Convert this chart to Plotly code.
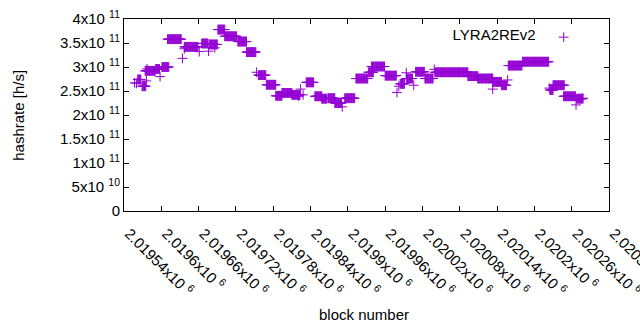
import plotly.graph_objects as go

# Runs of consecutive blocks sharing one hashrate estimate (value in units of 1e11 h/s)
seg_start = [2019562, 2019569, 2019574, 2019591, 2019601, 2019610, 2019637, 2019665, 2019677,
             2019691, 2019702, 2019723, 2019737, 2019756, 2019769, 2019784, 2019794, 2019810,
             2019833, 2019847, 2019858, 2019868, 2019879, 2019895, 2019913, 2019933, 2019938,
             2019960, 2019984, 2019994, 2020009, 2020024, 2020040, 2020093, 2020109, 2020133,
             2020147, 2020158, 2020181, 2020225, 2020230, 2020247, 2020268]
seg_end = [2019567, 2019575, 2019590, 2019597, 2019612, 2019632, 2019659, 2019675, 2019690,
           2019702, 2019721, 2019737, 2019752, 2019768, 2019784, 2019794, 2019810, 2019823,
           2019845, 2019858, 2019866, 2019879, 2019890, 2019911, 2019932, 2019941, 2019959,
           2019978, 2019991, 2020004, 2020023, 2020037, 2020093, 2020109, 2020133, 2020147,
           2020155, 2020180, 2020223, 2020230, 2020248, 2020266, 2020278]
seg_value = [2.74, 2.60, 2.92, 2.96, 3.00, 3.58, 3.42, 3.49, 3.47,
             3.78, 3.64, 3.53, 3.31, 2.83, 2.63, 2.40, 2.46, 2.42,
             2.68, 2.39, 2.34, 2.35, 2.25, 2.35, 2.76, 2.89, 3.01,
             2.82, 2.65, 2.76, 2.90, 2.76, 2.89, 2.81, 2.76, 2.69,
             2.62, 3.03, 3.11, 2.52, 2.62, 2.39, 2.34]

# Isolated blocks
pt_block = [2019557, 2019560, 2019576, 2019577, 2019598, 2019634, 2019637, 2019661, 2019676,
            2019686, 2019753, 2019821, 2019824, 2019828, 2019891, 2019979, 2019982, 2019994,
            2020006, 2020039, 2020133, 2020157, 2020224, 2020267, 2020278]
pt_value = [2.67, 2.66, 2.71, 2.96, 2.80, 3.18, 3.38, 3.32, 3.33,
            3.40, 2.89, 2.39, 2.54, 2.42, 2.17, 2.47, 2.60, 2.88,
            2.62, 2.95, 2.54, 2.73, 2.56, 2.21, 2.35]

x_ticks = [2019540 + 60 * i for i in range(14)]
y_ticks = [0, 5e10, 1e11, 1.5e11, 2e11, 2.5e11, 3e11, 3.5e11, 4e11]
y_ticktext = ["0", "5x10 <sup>10</sup>", "1x10 <sup>11</sup>", "1.5x10 <sup>11</sup>",
              "2x10 <sup>11</sup>", "2.5x10 <sup>11</sup>", "3x10 <sup>11</sup>",
              "3.5x10 <sup>11</sup>", "4x10 <sup>11</sup>"]


def fmt_x(v):
    s = ("%.5f" % (v / 1e6)).rstrip("0").rstrip(".")
    return s + "x10 <sup>6</sup>"


x_ticktext = [fmt_x(v) for v in x_ticks]

xs, ys = [], []
for s, e, v in zip(seg_start, seg_end, seg_value):
    for b in range(s, e + 1):
        xs.append(b)
        ys.append(v * 1e11)
for b, v in zip(pt_block, pt_value):
    xs.append(b)
    ys.append(v * 1e11)

FONT = "Liberation Sans, Arial, sans-serif"
COLOR = "#9400D3"

fig = go.Figure()
fig.add_trace(go.Scatter(
    x=xs, y=ys, mode="markers", name="",
    marker=dict(symbol="cross-thin", size=7, line=dict(width=1, color=COLOR), color=COLOR),
    showlegend=True,
))

axis_common = dict(showline=True, linecolor="black", linewidth=1, mirror="ticks",
                   ticks="inside", ticklen=5, tickcolor="black", showgrid=False,
                   zeroline=False, automargin=False, ticklabeloverflow="allow",
                   tickfont=dict(family=FONT, size=15, color="black"))

fig.update_layout(
    width=640, height=330,
    margin=dict(l=124, r=31, t=19, b=119),
    paper_bgcolor="white", plot_bgcolor="white",
    font=dict(family=FONT, size=15, color="black"),
    xaxis=dict(range=[2019539.98, 2020320.02], tickvals=x_ticks, ticktext=x_ticktext,
               tickangle=45, ticklabelstandoff=7, ticklabelshift=5, **axis_common),
    yaxis=dict(range=[0, 4e11], tickvals=y_ticks, ticktext=y_ticktext, **axis_common),
    legend=dict(x=0.96, y=0.99, xanchor="right", yanchor="top", bgcolor="rgba(0,0,0,0)",
                title=dict(text="LYRA2REv2", side="left", font=dict(family=FONT, size=15)),
                font=dict(family=FONT, size=15)),
    annotations=[
        dict(text="hashrate [h/s]", xref="paper", yref="paper", x=-0.219, y=0.5,
             textangle=-90, showarrow=False, font=dict(family=FONT, size=15),
             xanchor="center", yanchor="middle"),
        dict(text="block number", xref="paper", yref="paper", x=0.495, y=-0.54,
             showarrow=False, font=dict(family=FONT, size=15),
             xanchor="center", yanchor="middle"),
    ],
)

fig.write_html("out.html", config={"displayModeBar": False},
               post_script="document.body.style.margin='0';document.body.style.overflow='hidden';")
